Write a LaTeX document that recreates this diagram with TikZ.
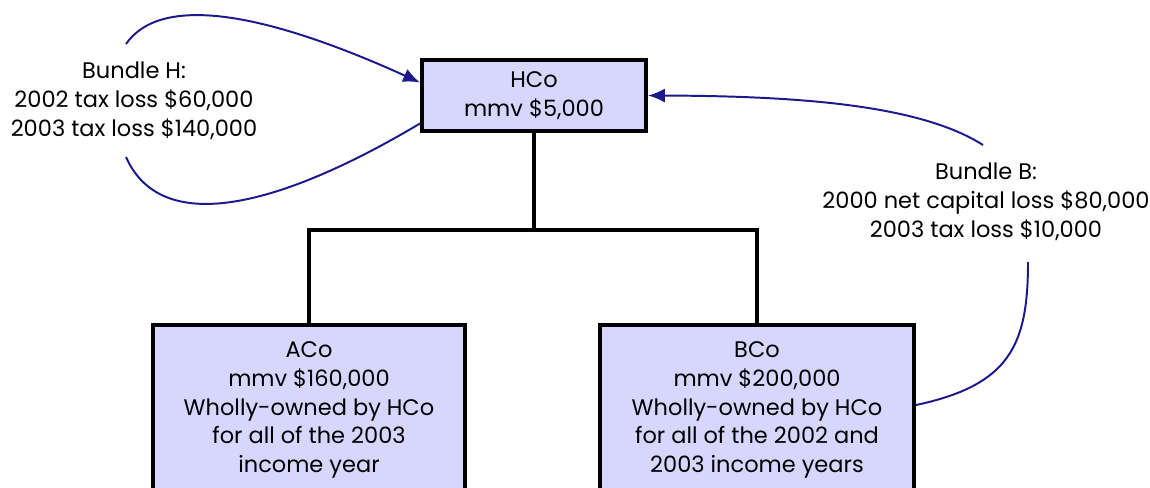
\documentclass[tikz,border=0pt]{standalone}
\usepackage{fontspec}
\setmainfont{Poppins}
\usetikzlibrary{arrows.meta}
\definecolor{boxfill}{RGB}{214,214,255}
\definecolor{bundlecol}{RGB}{26,26,140}
\begin{document}
\begin{tikzpicture}[x=0.025cm,y=-0.025cm,
  company/.style={draw,line width=2.8pt,fill=boxfill,align=center,inner sep=0pt,
    font=\fontsize{16}{20.4}\selectfont},
  note/.style={align=center,inner sep=0pt,font=\fontsize{16}{20.8}\selectfont},
  owns/.style={line width=2.4pt},
  bundle/.style={line width=1.4pt,bundlecol},
  bundletip/.style={-{Latex[length=12pt,width=10pt]}}]
\clip (0,0) rectangle (1150,487);
% companies
\node[company, minimum width=5.6cm, minimum height=1.775cm] (hco) at (534,95.5) {HCo\\mmv \$5,000};
\node[company, minimum width=7.8cm, minimum height=4.25cm] (aco) at (309,410)
  {ACo\\mmv \$160,000\\Wholly-owned by HCo\\for all of the 2003\\income year};
\node[company, minimum width=7.85cm, minimum height=4.25cm] (bco) at (757,410)
  {BCo\\mmv \$200,000\\Wholly-owned by HCo\\for all of the 2002 and\\2003 income years};
% ownership
\coordinate (split) at (534,230);
\draw[owns] (hco.south) -- (split) -| (aco.north);
\draw[owns] (split) -| (bco.north);
% bundles
\node[note] (bundleH) at (134,101) {Bundle H:\\2002 tax loss \$60,000\\2003 tax loss \$140,000};
\node[note] (bundleB) at (986,202) {Bundle B:\\2000 net capital loss \$80,000\\2003 tax loss \$10,000};
\coordinate (hup) at (126,44);
\coordinate (hdown) at (126,157);
\coordinate (bup) at (983,145);
\coordinate (bdown) at (1028,262);
\draw[bundle,bundletip] (hup) .. controls (160,-5) and (260,10) .. ([yshift=0.325cm]hco.west);
\draw[bundle] ([yshift=-0.7cm]hco.west) .. controls (300,195) and (165,245) .. (hdown);
\draw[bundle,bundletip] (bup) .. controls (920,105) and (800,96) .. (hco.east);
\draw[bundle] ([yshift=0.125cm]bco.east) .. controls (1010,385) and (1028,345) .. (bdown);
\end{tikzpicture}
\end{document}
